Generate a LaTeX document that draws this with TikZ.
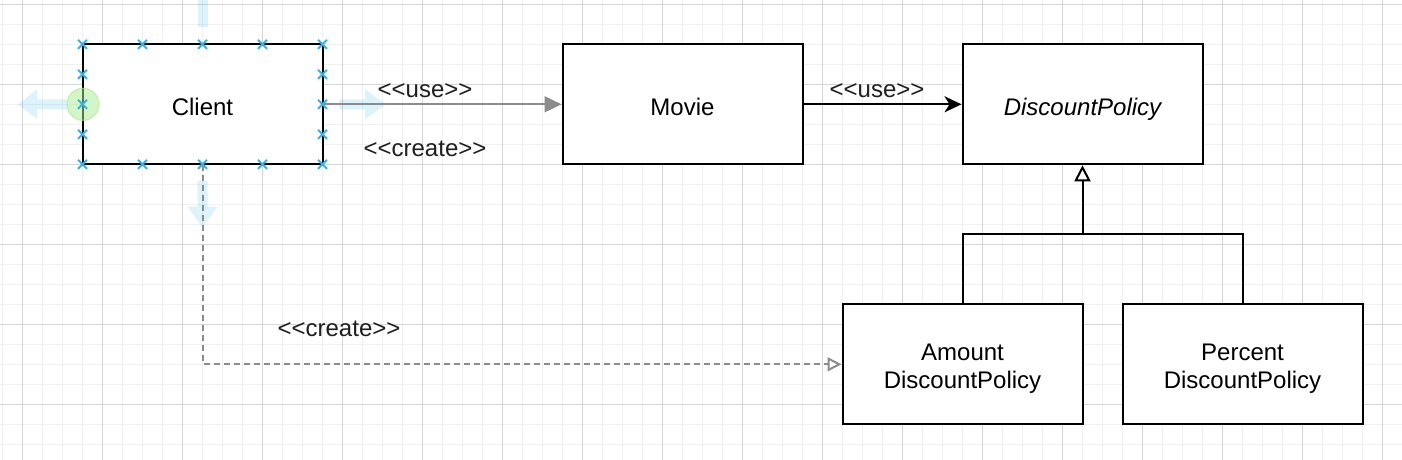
\documentclass[tikz,border=0pt]{standalone}
\usepackage{fontspec}
\setmainfont{Liberation Sans}
\usetikzlibrary{arrows.meta}
\definecolor{minorgrid}{HTML}{F0F0F0}
\definecolor{majorgrid}{HTML}{D6D6D6}
\definecolor{conngray}{HTML}{8C8C8C}
\definecolor{hintblue}{HTML}{29B6F2}
\definecolor{selgreen}{HTML}{A8EC90}
\newcommand\stereo[1]{<\kern0pt<#1>\kern0pt>}
\begin{document}
\begin{tikzpicture}[x=0.5pt,y=-0.5pt,
  cls/.style={draw=black, line width=1pt, fill=white, minimum width=120pt,
    minimum height=60pt, inner sep=0pt, align=center,
    text height=10.75pt, text depth=0pt,
    font=\fontsize{12}{14}\selectfont},
  twoline/.style={text height=24.2pt, text depth=0pt},
  lbl/.style={inner sep=0pt, text=black!88, font=\fontsize{12}{14}\selectfont},
  minorline/.style={minorgrid, line width=0.5pt},
  majorline/.style={majorgrid, line width=0.5pt},
  usegray/.style={conngray, line width=1pt, -{Triangle[length=8.5pt,width=8pt]}},
  useblack/.style={black, line width=1pt, -{Stealth[length=8.5pt,width=8pt,inset=2.5pt]}},
  genline/.style={black, line width=1pt},
  genarrow/.style={black, line width=1pt, -{Triangle[open,length=8pt,width=8pt,fill=white]}},
  createline/.style={conngray, line width=1pt, dash pattern=on 3pt off 2pt,
    -{Triangle[open,length=7pt,width=7pt,fill=white]}},
  hint/.style={fill=hintblue, fill opacity=0.16, draw=none},
  handle/.style={hintblue, line width=1pt},
]
\useasboundingbox (0,0) rectangle (1402,460);
\fill[white] (0,0) rectangle (1402,460);
% grid
\foreach \gx in {0,...,70} {\draw[minorline] ({2.5+20*\gx},0) -- ({2.5+20*\gx},460);}
\foreach \gy in {0,...,22} {\draw[minorline] (0,{4.3+20*\gy}) -- (1402,{4.3+20*\gy});}
\foreach \gx in {0,...,17} {\draw[majorline] ({22.5+80*\gx},0) -- ({22.5+80*\gx},460);}
\foreach \gy in {0,...,5} {\draw[majorline] (0,{4.3+80*\gy}) -- (1402,{4.3+80*\gy});}

% hint arrows around the selected shape
\fill[hint] (339,99.3) -- (365,99.3) -- (365,89.3) -- (386,104.3) -- (365,119.3) -- (365,109.3) -- (339,109.3) -- cycle;
\fill[hint] (67,99.3) -- (37,99.3) -- (37,89.3) -- (18,104.3) -- (37,119.3) -- (37,109.3) -- (67,109.3) -- cycle;
\fill[hint] (197.5,181) -- (207.5,181) -- (207.5,206.7) -- (217.5,206.7) -- (202.5,227.3) -- (187.5,206.7) -- (197.5,206.7) -- cycle;
\fill[hint] (197.5,0) rectangle (207.5,26.7);

% classes
\node[cls] (client) at (202.5,104.3) {Client};
\node[cls] (movie) at (682.5,104.3) {Movie};
\node[cls, font=\fontsize{12}{14}\selectfont\itshape] (dp) at (1082.5,104.3) {DiscountPolicy};
\node[cls, twoline] (amount) at (962.5,364.3) {Amount\\DiscountPolicy};
\node[cls, twoline] (percent) at (1242.5,364.3) {Percent\\DiscountPolicy};

% connectors
\draw[usegray] (client.east) -- (movie.west);
\draw[useblack] (movie.east) -- (dp.west);
\coordinate (junction) at (1082.5,234.3);
\draw[genline] (amount.north) |- (junction) -| (percent.north);
\draw[genarrow] (junction) -- (dp.south);
\draw[createline] (client.south) |- (amount.west);

% labels
\node[lbl] (usea) at (425,91) {\stereo{use}};
\node[lbl] (createa) at (425,149) {\stereo{create}};
\node[lbl] (useb) at (877,91) {\stereo{use}};
\node[lbl] (createb) at (339,329) {\stereo{create}};

% selection decoration
\fill[selgreen, fill opacity=0.5] (83,104.3) circle (16);
\draw[selgreen, line width=0.6pt, opacity=0.6] (83,104.3) circle (16);
\foreach \hx in {82.5,142.5,202.5,262.5,322.5} {
  \foreach \hy in {44.3,164.3} {
    \draw[handle] (\hx-4.5,\hy-4.5) -- (\hx+4.5,\hy+4.5) (\hx-4.5,\hy+4.5) -- (\hx+4.5,\hy-4.5);
  }
}
\foreach \hx in {82.5,322.5} {
  \foreach \hy in {74.3,104.3,134.3} {
    \draw[handle] (\hx-4.5,\hy-4.5) -- (\hx+4.5,\hy+4.5) (\hx-4.5,\hy+4.5) -- (\hx+4.5,\hy-4.5);
  }
}
\end{tikzpicture}
\end{document}
